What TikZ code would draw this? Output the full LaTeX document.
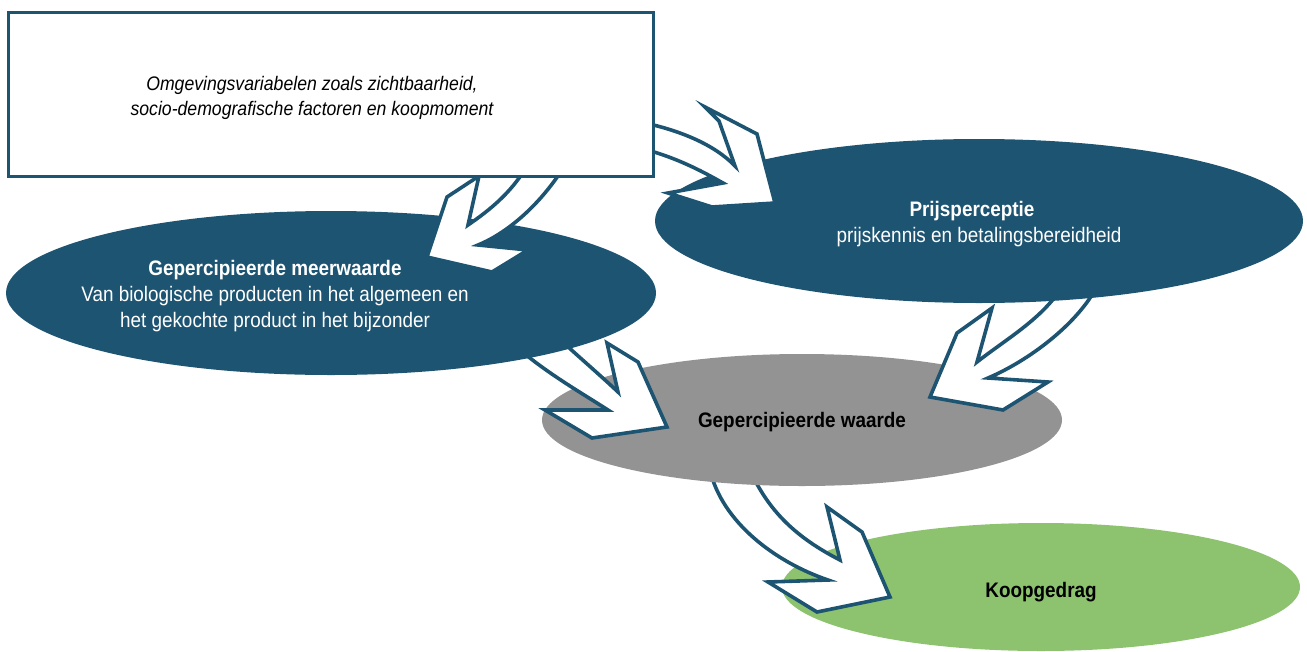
\documentclass[tikz,border=0pt]{standalone}
\usepackage{fontspec}
\setmainfont[FakeStretch=0.9]{Liberation Sans}
\usetikzlibrary{shapes.geometric}
\definecolor{dblue}{RGB}{29,84,114}
\definecolor{mgrey}{RGB}{147,147,147}
\definecolor{lgreen}{RGB}{141,194,111}
\tikzset{
  blockarrow/.style={fill=white, draw=dblue, line width=3.6pt, line join=miter, miter limit=10},
  oval/.style={ellipse, inner sep=0pt, draw=none},
  reg/.style={font=\fontsize{21}{24}\selectfont, inner sep=0pt, anchor=base},
  bld/.style={font=\fontsize{21}{24}\selectfont\bfseries, inner sep=0pt, anchor=base},
  itl/.style={font=\fontsize{19.6}{24}\selectfont\itshape, inner sep=0pt, anchor=base}
}
\begin{document}
\begin{tikzpicture}[x=1pt,y=-1pt]
\useasboundingbox (0,0) rectangle (1307,651);
% green ellipse
\node[oval, fill=lgreen, minimum width=518pt, minimum height=128pt] (koop) at (1041,587) {};
% arrow grey -> green
\draw[blockarrow] (710,470) .. controls (722,522) and (775,562) .. (828,580) -- (768,582) -- (817,612) -- (890,597) -- (862,532) -- (827,507) -- (840,560) .. controls (795,537) and (768,510) .. (750,470) -- cycle;
% grey ellipse
\node[oval, fill=mgrey, minimum width=520pt, minimum height=132pt] (waarde) at (802,420) {};
% arrow left -> grey
\draw[blockarrow] (555,335) .. controls (580,358) and (600,375) .. (618,392) -- (607,343) -- (638,362) -- (667,427) -- (592,438) -- (545,410) -- (608,410) .. controls (580,392) and (550,375) .. (520,350) -- cycle;
% arrow right -> grey
\draw[blockarrow] (1060,290) .. controls (1040,320) and (1005,340) .. (977,362) -- (992,308) -- (957,333) -- (930,397) -- (1003,410) -- (1048,382) -- (988,378) .. controls (1030,360) and (1075,325) .. (1095,290) -- cycle;
% left and right ellipses
\node[oval, fill=dblue, minimum width=650pt, minimum height=164pt] (meer) at (331,293) {};
\node[oval, fill=dblue, minimum width=648pt, minimum height=164pt] (prijs) at (979,221) {};
% arrow box -> left
\draw[blockarrow] (530,160) .. controls (515,190) and (490,210) .. (468,225) -- (479,176) -- (447,197) -- (427,257) -- (492,272) -- (528,250) -- (478,245) .. controls (510,232) and (545,200) .. (568,160) -- cycle;
% arrow box -> right
\draw[blockarrow] (640,122) .. controls (680,130) and (715,145) .. (735,166) -- (719,121) -- (705,107) -- (757,134) -- (775,203) -- (712,207) -- (668,193) -- (723,183) .. controls (700,170) and (675,157) .. (640,148) -- cycle;
% box
\node[draw=dblue, fill=white, line width=3pt, minimum width=645pt, minimum height=164pt, inner sep=0pt] (omg) at (331,94.5) {};
% texts
\node[itl] (o1) at (312,90) {Omgevingsvariabelen zoals zichtbaarheid,};
\node[itl] (o2) at (312,115) {socio-demografische factoren en koopmoment};
\node[bld, white] (m1) at (275,275) {Gepercipieerde meerwaarde};
\node[reg, white] (m2) at (275,301) {Van biologische producten in het algemeen en};
\node[reg, white] (m3) at (275,327) {het gekochte product in het bijzonder};
\node[bld, white] (p1) at (972,216) {Prijsperceptie};
\node[reg, white] (p2) at (979,242) {prijskennis en betalingsbereidheid};
\node[bld, black] (w1) at (802,427) {Gepercipieerde waarde};
\node[bld, black] (k1) at (1041,597) {Koopgedrag};
\end{tikzpicture}
\end{document}
